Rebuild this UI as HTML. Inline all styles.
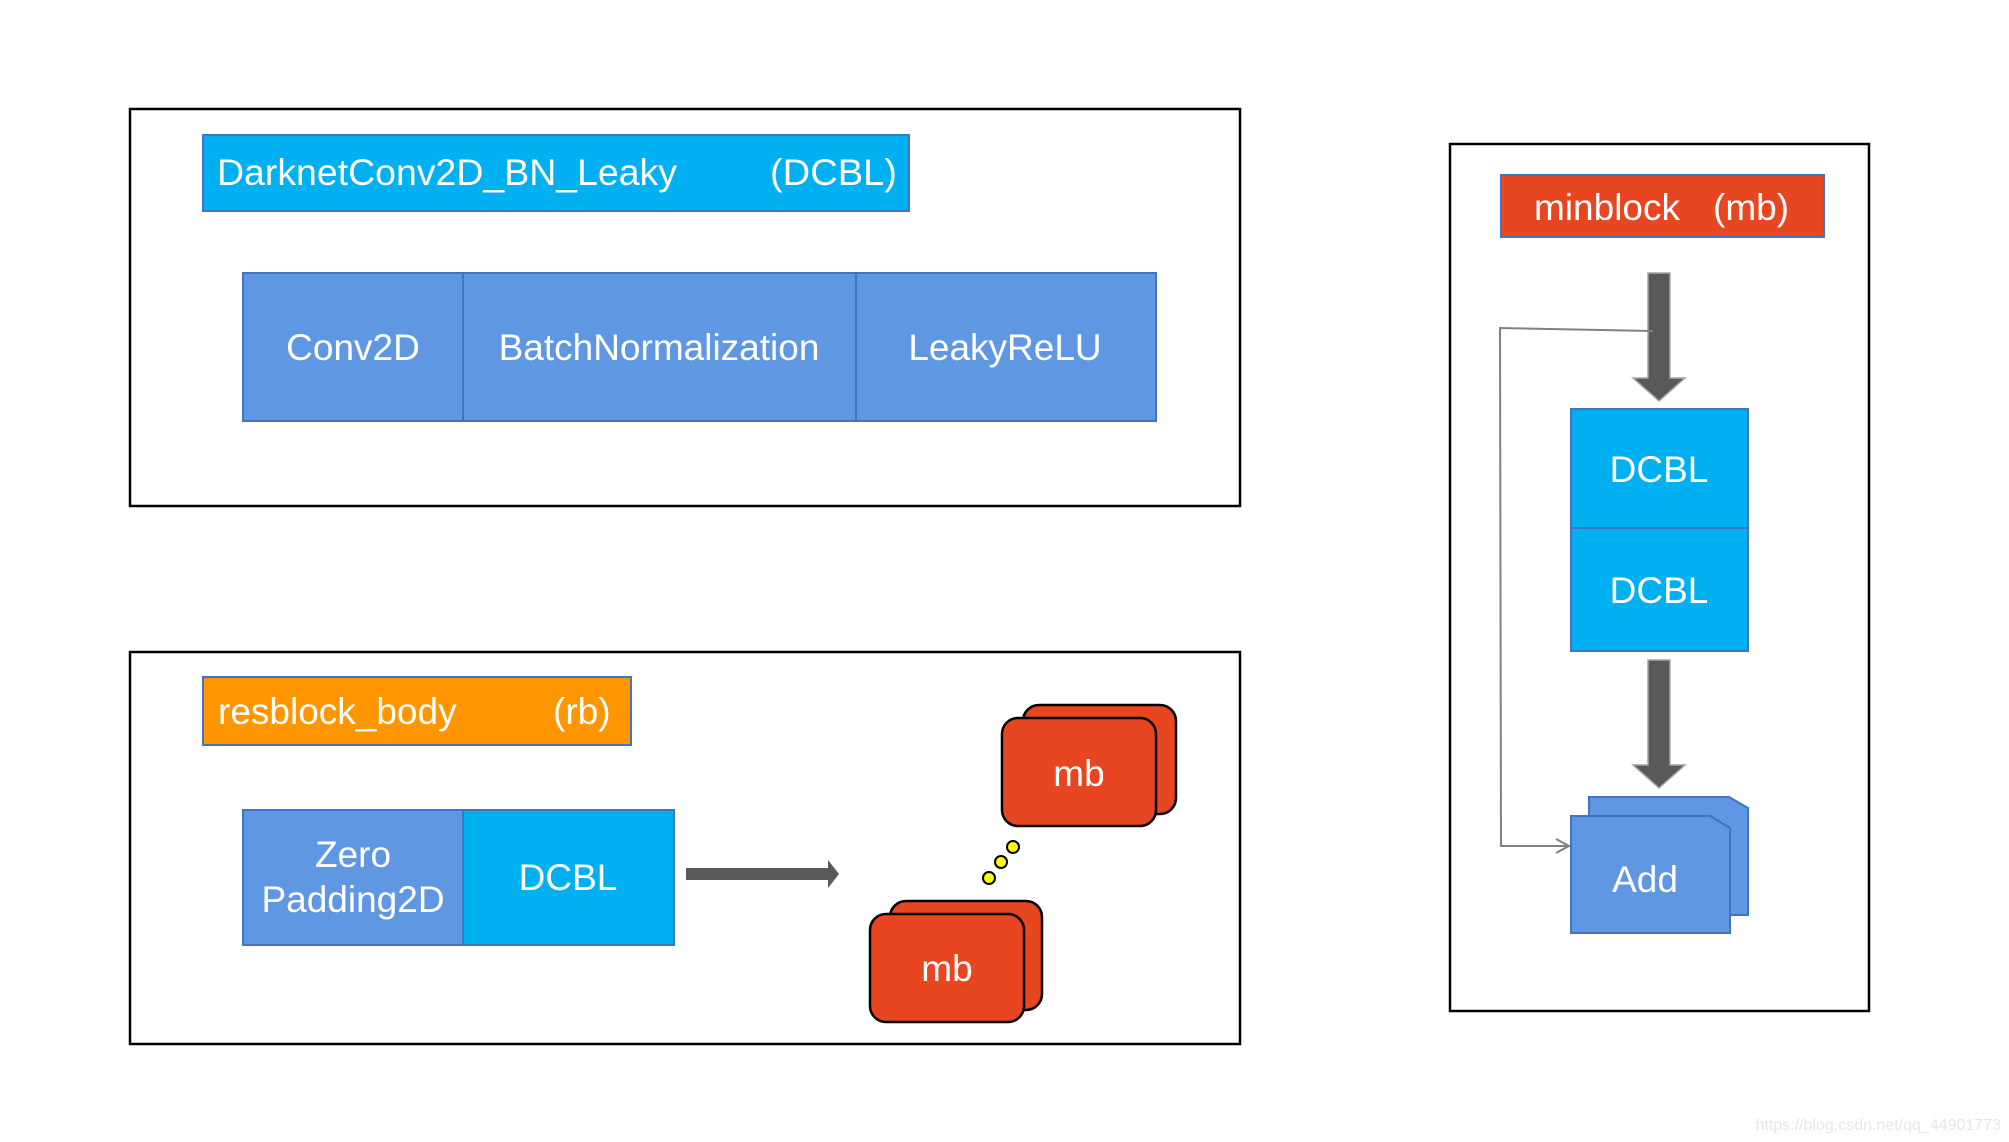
<!DOCTYPE html>
<html><head><meta charset="utf-8"><style>html,body{margin:0;padding:0;background:#fff}svg{display:block}</style></head>
<body>
<svg width="2009" height="1142" viewBox="0 0 2009 1142" xmlns="http://www.w3.org/2000/svg" font-family="Liberation Sans, Arial, sans-serif">
<!-- Top box -->
<rect x="130" y="109" width="1110" height="397" fill="#fff" stroke="#000" stroke-width="2.5"/>
<rect x="203" y="135" width="706" height="76" fill="#00b0f0" stroke="#4472c4" stroke-width="2"/>
<text x="217" y="185" font-size="37" fill="#fff" textLength="460" lengthAdjust="spacingAndGlyphs">DarknetConv2D_BN_Leaky</text>
<text x="770" y="185" font-size="37" fill="#fff" textLength="127" lengthAdjust="spacingAndGlyphs">(DCBL)</text>
<rect x="243" y="273" width="913" height="148" fill="#6097e3" stroke="#4472c4" stroke-width="2"/>
<line x1="463" y1="273" x2="463" y2="421" stroke="#4472c4" stroke-width="2"/>
<line x1="856" y1="273" x2="856" y2="421" stroke="#4472c4" stroke-width="2"/>
<g font-size="37" fill="#fff" text-anchor="middle">
<text x="353" y="360">Conv2D</text>
<text x="659" y="360">BatchNormalization</text>
<text x="1005" y="360">LeakyReLU</text>
</g>

<!-- Bottom box -->
<rect x="130" y="652" width="1110" height="392" fill="#fff" stroke="#000" stroke-width="2.5"/>
<rect x="203" y="677" width="428" height="68" fill="#ff9600" stroke="#4472c4" stroke-width="2"/>
<text x="218" y="724" font-size="37" fill="#fff">resblock_body</text>
<text x="553" y="724" font-size="37" fill="#fff">(rb)</text>
<rect x="243" y="810" width="431" height="135" fill="#6097e3" stroke="#4472c4" stroke-width="2"/>
<rect x="463" y="810" width="211" height="135" fill="#00b0f0" stroke="#4472c4" stroke-width="2"/>
<g font-size="37" fill="#fff" text-anchor="middle">
<text x="353" y="867">Zero</text>
<text x="353" y="912">Padding2D</text>
<text x="568" y="890">DCBL</text>
</g>
<polygon points="686,868 828,868 828,860 839,874 828,888 828,880 686,880" fill="#595959"/>

<!-- mb stacks -->
<rect x="1023" y="705" width="153" height="109" rx="16" fill="#e84521" stroke="#000" stroke-width="2.5"/>
<rect x="1002" y="718" width="154" height="108" rx="16" fill="#e84521" stroke="#000" stroke-width="2.5"/>
<text x="1079" y="786" font-size="37" fill="#fff" text-anchor="middle">mb</text>
<rect x="890" y="901" width="152" height="109" rx="16" fill="#e84521" stroke="#000" stroke-width="2.5"/>
<rect x="870" y="914" width="154" height="108" rx="16" fill="#e84521" stroke="#000" stroke-width="2.5"/>
<text x="947" y="981" font-size="37" fill="#fff" text-anchor="middle">mb</text>
<g fill="#ffff00" stroke="#000" stroke-width="2">
<circle cx="1013" cy="847" r="6"/>
<circle cx="1001" cy="862" r="6"/>
<circle cx="989" cy="878" r="6"/>
</g>

<!-- Right box -->
<rect x="1450" y="144" width="419" height="867" fill="#fff" stroke="#000" stroke-width="2.5"/>
<rect x="1501" y="175" width="323" height="62" fill="#e84521" stroke="#4472c4" stroke-width="2"/>
<text x="1534" y="220" font-size="37" fill="#fff">minblock</text>
<text x="1713" y="220" font-size="37" fill="#fff">(mb)</text>
<polygon points="1648,273 1670,273 1670,378 1685,378 1659,401 1633,378 1648,378" fill="#595959" stroke="#a6a6a6" stroke-width="1.5"/>
<polyline points="1653,331 1500,328 1501,846 1568,846" fill="none" stroke="#808080" stroke-width="2"/>
<polyline points="1556,839 1569,846 1556,853" fill="none" stroke="#808080" stroke-width="2"/>
<rect x="1571" y="409" width="177" height="242" fill="#00b0f0" stroke="#4472c4" stroke-width="2"/>
<line x1="1571" y1="528" x2="1748" y2="528" stroke="#4472c4" stroke-width="2"/>
<g font-size="37" fill="#fff" text-anchor="middle">
<text x="1659" y="482">DCBL</text>
<text x="1659" y="603">DCBL</text>
</g>
<polygon points="1648,660 1670,660 1670,765 1685,765 1659,788 1633,765 1648,765" fill="#595959" stroke="#a6a6a6" stroke-width="1.5"/>
<polygon points="1589,797 1729,797 1748,808 1748,915 1589,915" fill="#6097e3" stroke="#4472c4" stroke-width="2"/>
<polygon points="1571,816 1710,816 1730,828 1730,933 1571,933" fill="#6097e3" stroke="#4472c4" stroke-width="2"/>
<text x="1645" y="892" font-size="37" fill="#fff" text-anchor="middle">Add</text>

<text x="2001" y="1130" font-size="16" fill="#e6e6e6" text-anchor="end">https://blog.csdn.net/qq_44901773</text>
</svg>
</body></html>
